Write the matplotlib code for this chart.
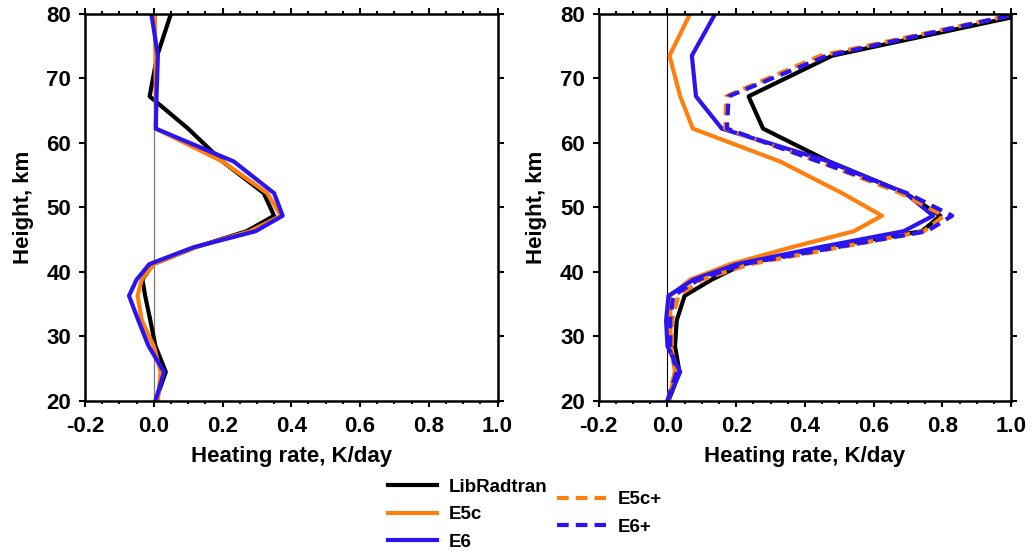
import numpy as np
import matplotlib
matplotlib.use("Agg")
import matplotlib.pyplot as plt
from matplotlib.ticker import MultipleLocator

plt.rcParams['font.family'] = ['Liberation Sans', 'DejaVu Sans']
plt.rcParams['font.weight'] = 'bold'

# heights (km)
height = [20, 24.5, 28.5, 32.5, 36.3, 38.8, 41.2, 43.8, 46.3, 48.7, 52.2, 57.1, 62.2, 67.2, 73.5, 80]

# left panel, heating rate K/day
left_lib = [0.005, 0.035, 0.005, -0.01, -0.025, -0.033, -0.003, 0.12, 0.27, 0.35, 0.32, 0.2, 0.1, -0.012, 0.01, 0.05]
left_e5c = [0.012, 0.02, 0.0, -0.035, -0.047, -0.035, 0.0, 0.12, 0.28, 0.37, 0.33, 0.2, 0.006, 0.006, 0.005, 0.003]
left_e6 = [0.005, 0.03, -0.015, -0.045, -0.072, -0.05, -0.013, 0.115, 0.296, 0.375, 0.35, 0.233, 0.006, 0.008, 0.012, -0.007]

# right panel
right_lib = [0.003, 0.035, 0.022, 0.027, 0.05, 0.129, 0.22, 0.45, 0.74, 0.794, 0.692, 0.47, 0.278, 0.236, 0.479, 1.05]
right_e5c = [0.003, 0.022, 0.01, 0.008, 0.008, 0.066, 0.183, 0.36, 0.542, 0.624, 0.508, 0.328, 0.074, 0.037, 0.006, 0.066]
right_e6 = [0.0, 0.037, 0.0, -0.004, 0.003, 0.076, 0.202, 0.44, 0.687, 0.773, 0.692, 0.47, 0.158, 0.083, 0.071, 0.139]
right_e5cp = [0.0, 0.022, 0.013, 0.013, 0.032, 0.1, 0.241, 0.5, 0.746, 0.804, 0.678, 0.44, 0.168, 0.171, 0.445, 1.02]
right_e6p = [0.0, 0.027, 0.008, 0.008, 0.017, 0.09, 0.221, 0.49, 0.755, 0.828, 0.697, 0.44, 0.173, 0.178, 0.464, 1.02]

BLACK = '#000000'
ORANGE = '#ff7f0e'
BLUE = '#2a14f0'
LW = 3.0
FS = 16

fig = plt.figure(figsize=(10.34, 5.54), dpi=100)
ax1 = fig.add_axes([0.0822, 0.2762, 0.399, 0.699])
ax2 = fig.add_axes([0.579, 0.2762, 0.399, 0.699])

# zero line (grey on the left panel, black on the right)
ax1.axvline(0, color='#777777', lw=0.9, zorder=1)
ax2.axvline(0, color='black', lw=0.8, zorder=1)

for ax in (ax1, ax2):
    ax.set_xlim(-0.2, 1.0)
    ax.set_ylim(20, 80)
    ax.xaxis.set_major_locator(MultipleLocator(0.2))
    ax.xaxis.set_minor_locator(MultipleLocator(0.05))
    ax.yaxis.set_major_locator(MultipleLocator(10))
    ax.tick_params(which='both', direction='out', top=True, right=True, width=1.5,
                   labelsize=FS, pad=6)
    ax.tick_params(axis='x', which='major', pad=7)
    ax.tick_params(which='major', length=4)
    ax.tick_params(which='minor', length=2.5)
    for s in ax.spines.values():
        s.set_linewidth(1.8)
    ax.set_xticklabels([f'{v:.1f}' for v in ax.get_xticks()])
    ax.set_xlabel('Heating rate, K/day', fontsize=FS, fontweight='bold', labelpad=6)
    ax.set_ylabel('Height, km', fontsize=FS, fontweight='bold', labelpad=9)

ax1.plot(left_lib, height, color=BLACK, lw=LW)
ax1.plot(left_e5c, height, color=ORANGE, lw=LW)
ax1.plot(left_e6, height, color=BLUE, lw=LW)

l1, = ax2.plot(right_lib, height, color=BLACK, lw=LW, label='LibRadtran')
l2, = ax2.plot(right_e5c, height, color=ORANGE, lw=LW, label='E5c')
l3, = ax2.plot(right_e6, height, color=BLUE, lw=LW, label='E6')
l4, = ax2.plot(right_e5cp, height, color=ORANGE, lw=LW, ls=(0, (2.8, 1.7)), label='E5c+')
l5, = ax2.plot(right_e6p, height, color=BLUE, lw=LW, ls=(0, (2.8, 1.7)), label='E6+')

leg_kw = dict(frameon=False, fontsize=13.5, handlelength=2.6, handletextpad=0.64,
              labelspacing=0.56, borderpad=0)
fig.legend(handles=[l1, l2, l3], loc='upper left', bbox_to_anchor=(0.3665, 0.153), **leg_kw)
fig.legend(handles=[l4, l5], loc='upper left', bbox_to_anchor=(0.530, 0.1305), **leg_kw)

fig.savefig('out.png', dpi=100)
